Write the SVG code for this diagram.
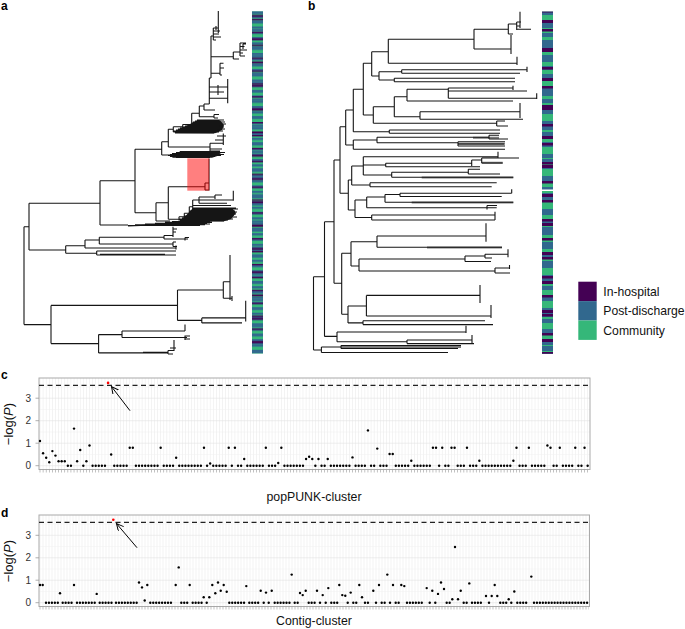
<svg xmlns="http://www.w3.org/2000/svg" width="685" height="629" viewBox="0 0 685 629">
<defs>
<style>
text{font-family:"Liberation Sans",Arial,Helvetica,sans-serif}
.t{fill:none;stroke:#151515;stroke-width:1.1}
.tk{fill:none;stroke:#7a7a7a;stroke-width:2}
.wedge{fill:#151515}
.lab{font-size:12px;font-weight:bold;fill:#000}
.yt{font-size:10px;fill:#333;text-anchor:end}
.ttl{font-size:12.3px;fill:#111;text-anchor:middle}
.leg{font-size:12.2px;fill:#111}
.dot{fill:#000}
.red{fill:#ff0000}
.zc{fill:none;stroke:#000;stroke-width:2.4;stroke-linecap:round;stroke-dasharray:0 3.094}
.zd{fill:none;stroke:#000;stroke-width:2.4;stroke-linecap:round;stroke-dasharray:0 2.95}
.hmaj{stroke:#e3e3e3;stroke-width:0.6}
.hmin{stroke:#f1f1f1;stroke-width:0.5}
.frame{fill:none;stroke:#aaa;stroke-width:1}
.dash{stroke:#222;stroke-width:1.2;stroke-dasharray:5 3.5}
.arr{stroke:#000;stroke-width:1;marker-end:url(#ah)}
.ytick{stroke:#999;stroke-width:0.8}
</style>
<marker id="ah" markerWidth="10" markerHeight="10" refX="7" refY="3.5" orient="auto" markerUnits="userSpaceOnUse"><path d="M0 0L7 3.5L0 7" fill="none" stroke="#000" stroke-width="1"/></marker>
<pattern id="pa1" width="11" height="5.3" patternUnits="userSpaceOnUse"><rect y="0" width="11" height="2.2" fill="#31688E"/></pattern>
<pattern id="pa2" width="11" height="8.7" patternUnits="userSpaceOnUse"><rect y="3" width="11" height="2.4" fill="#31688E"/></pattern>
<pattern id="pa3" width="11" height="12.9" patternUnits="userSpaceOnUse"><rect y="6" width="11" height="1.3" fill="#440154"/></pattern>
<pattern id="pa4" width="11" height="23.3" patternUnits="userSpaceOnUse"><rect y="15" width="11" height="1.8" fill="#440154"/></pattern>
<pattern id="pb1" width="11" height="11" patternUnits="userSpaceOnUse"><rect y="0" width="11" height="4" fill="#31688E"/></pattern>
<pattern id="pb2" width="11" height="17" patternUnits="userSpaceOnUse"><rect y="6" width="11" height="5" fill="#31688E"/></pattern>
<pattern id="pb3" width="11" height="19" patternUnits="userSpaceOnUse"><rect y="10" width="11" height="2.5" fill="#440154"/></pattern>
<pattern id="pb4" width="11" height="29" patternUnits="userSpaceOnUse"><rect y="20" width="11" height="3" fill="#440154"/></pattern>
</defs>
<rect width="685" height="629" fill="#fff"/>

<text class="lab" x="1" y="10">a</text>
<text class="lab" x="308" y="10">b</text>
<text class="lab" x="1" y="379">c</text>
<text class="lab" x="1" y="517">d</text>

<g id="tree-a">
<polygon class="wedge" points="175,133 185,126.5 192,123 198,120.3 220,120.3 224,125 222,130 215,133.3"/>
<polygon class="wedge" points="169,155.5 180,151.5 217,151.5 222,154.5 212,157.8 173,157.8"/>
<polygon class="wedge" points="180,221 187,214.5 193,208 232,208 236,213 231,219 224,221.3"/>
<polygon class="wedge" points="128,226 170,222.8 205,219.8 211,220.5 206,223.5 160,225.3 128,226.4"/>
<path class="t" d="M24 226.7V324.6M24 226.7H29M29 203.3V250M29 203.3H100M100 180.7V225M100 180.7H135M135 149.3V212.7M135 149.3H161.7M161.7 141.7V155M161.7 141.7H168.3M168.3 129.3V147
M161.7 155H170M180 151.5H220M176 152.5H225M172 153.5H218M170 154.5H224M168 155.5H221M170 156.5H215M176 157.5H210
M168.3 147H210M210 143.3V151M210 143.3H223.3M210 151H220M223.3 133.5V145M215 140H223.3M217 136H226M210 149H222
M168.3 129.3H173.3M173.3 126.7V132M173.3 126.7H182.7M182.7 124.5V128.3M182.7 124.5H191.7M191.7 113.3V125
M197 120H224M195 121H219M193 122H225M191.7 123H221M191.7 124H226M188 125H222M185 126H219M182.7 127H224M180 128H220M178 129H225M176 130H217M173.3 131H223M173.3 132H219M175 133H214
M191.7 113.3H199.3M199.3 106V116.7M199.3 116.7H214M214 114.5V118M214 114.5H219M214 118H218M199.3 106H204M204 104V110M204 110H215M204 104H209.3
M209.3 78V104M209.3 98.3H227.7M227.7 79V103.3M209.3 87H227.7M209.3 92H224M218 85V95
M209.3 78H211M211 36V78M211 73.3H220M220 63.3V75M220 63.3H223.5M220 68H224M220 75H222
M211 56.7H233.3M233.3 52V59M233.3 52H240M233.3 59H239M240 43V56M240 43H246M240 46.5H244.5M240 50H247M240 53H243M240 56H245M243 44V49M243 44H246
M211 36H213.3M213.3 28V40M213.3 28H218.3M218.3 11V33M213.3 31H220M213.3 34H219M213.3 37H221M213.3 40H216M216 26V30
M135 212.7H156M156 202.7V221M156 202.7H168.3M168.3 186.7V219.3M168.3 186.7H205M205 183V190M205 183H209M205 190H209M209 158.5V190.5
M168.3 219.3H179M179 216.7V220.5M179 216.7H184.3M184.3 213.3V218.3M184.3 213.3H189.3M189.3 206.7V216M189.3 206.7H192.7M192.7 200V210
M192.7 200H199M199 197V203.3M199 200H233.3M233.3 190.7V200.7M199 203.3H227M199 197H215M215 195V199M215 195H222M192.7 205.5H231
M192.7 208H236M192.7 209H238M192.7 210H233M190 211H235M189.3 212H237M189.3 213H231M189.3 214H236M187 215H234M184.3 216H232M184.3 217H237M182 218H230M179 219H233M179 220H228M181 221H224
M156 221H170M100 225H128M128 225.5H200M135 224.7H205M145 224H210M155 223.2H207M165 222.4H212M172 221.6H210M180 220.8H206
M29 250H65.7M65.7 245.7V253.3M65.7 245.7H85M85 240V248M85 240H99.3M99.3 237.3V244M99.3 237.3H164M164 235.5V239M164 235.5H173M173 226.7V237M173 229H177M173 232H176M164 239H188M185 237.5V240.5M185 237.5H189
M99.3 244H173M173 242V246.5M173 242H176M173 246.5H177M85 248H176M176 245.5V249.5
M65.7 253.3H96.7M96.7 251V255M96.7 251H176M96.7 255H176M100 254.2H165
M24 324.6H51M51 305.4V343.6M51 305.4H177.5M177.5 290V320.4M177.5 290H223.3M223.3 281.7V298.3M223.3 281.7H230M230 255V300M223.3 298.3H232M232 296V301
M177.5 320.4H201.8M201.8 317.9V322.9M201.8 317.9H245.7M245.7 300.7V321.4M201.8 322.9H242
M51 343.6H98.6M98.6 334.6V352.9M98.6 334.6H122M122 331V337.5M122 331H185M185 324.6V331M122 337.5H187M185 335.5V340M185 336H190M185 339H190
M98.6 352.9H168M143 352.2H168M168 350.5V354M168 350.5H174M174 340V351M168 354H173M170 348H176"/>
<rect x="187.3" y="158.3" width="22" height="32.4" fill="#ff0000" fill-opacity="0.5"/>
</g>

<g id="strip-a">
<rect x="252" y="11.5" width="11" height="342" fill="#35B779"/>
<rect x="252" y="11.5" width="11" height="342" fill="url(#pa1)"/>
<rect x="252" y="11.5" width="11" height="342" fill="url(#pa2)"/>
<rect x="252" y="11.5" width="11" height="342" fill="url(#pa3)"/>
<rect x="252" y="11.5" width="11" height="342" fill="url(#pa4)"/>
</g>

<g id="tree-b">
<path class="tk" d="M421.7 177.6H513.3M427 247.6H502M458 143.8H505M411.7 202.6H513.3M481.7 162.7H502.7M341 347H461M473 137.8H499"/>
<path class="t" d="M313.5 276.7V350M313.5 350H321.4M321.4 347V352.5M321.4 347H341M341 345.5V348.5M341 345.5H461M341 348.5H458M321.4 352.5H448
M313.5 276.7H324.5M324.5 221.7V336.4M324.5 336.4H337M337 332V341.8M337 332H466M466 325.7V333M337 341.8H407M407 340V343.6M407 340H472M472 335V343.6M407 343.6H474
M324.5 221.7H334M334 160V283.3M334 283.3H341.7M341.7 253.3V314.3M341.7 253.3H351M351 241.7V266M351 241.7H377M377 236V247.3M377 236H486M486 223.3V241.7M377 247.3H502
M351 266H359M359 259V271M359 259H465M465 256V261.5M465 256H485M485 254.3V258M485 254.3H508M508 249.3V257.3M485 258H492M465 261.5H491M359 271H495M495 268V273M495 268H510M495 273H510M509.5 265V269
M341.7 314.3H348M348 306V322.9M348 306H366.4M366.4 295.4V316M366.4 295.4H480M480 285V303M366.4 316H491M491 305V318M348 322.9H363M363 320.7V324.6M363 320.7H485M363 324.6H493
M334 160H340M340 126.7V193.3M340 126.7H345.7M345.7 110V145M345.7 110H353.3M353.3 89.3V131.7M353.3 89.3H363.3M363.3 63.3V115M363.3 63.3H371.7M371.7 51.7V76M371.7 51.7H388.3M388.3 39.3V63.3M388.3 39.3H474M474 29.3V49M474 29.3H508.3M508.3 24V34M508.3 24H516.7M516.7 22V30M520 11.7V28M516.7 26H520M516.7 22H521M516.7 29.3H531M508.3 34H513M474 49H511M511 35V54M388.3 63.3H517M517 56.7V65
M371.7 76H379M379 71.7V80M379 71.7H401.7M401.7 69.7V73.3M401.7 69.7H527M527 66.7V72M401.7 73.3H520M379 80H394.3M394.3 78.3V81.7M394.3 78.3H515M394.3 81.7H515
M363.3 115H373.3M373.3 106.7V123.3M373.3 106.7H394.3M394.3 96.7V116.7M394.3 96.7H407M407 89.3V101M407 89.3H448.3M448.3 88V98.3M448.3 88H513M513 85.7V90M448.3 91H527M448.3 98.3H536.7M536.7 93.3V99M407 101H513
M394.3 116.7H420M420 111.7V119.3M420 111.7H520M520 103V118M420 119.3H523M373.3 123.3H496.7M496.7 121V126M496.7 121H505M496.7 126H508
M353.3 131.7H389.3M389.3 130V133.3M389.3 130H500M389.3 133.3H500
M345.7 145H353.3M353.3 140V149.3M353.3 140H377M377 137.3V142.7M377 137.3H489M489 135.3V139M489 135.3H499M489 139H508M377 142.7H458M458 141.7V146M458 141.7H505M458 144H504M458 146H505M353.3 149.3H505
M340 193.3H348.3M348.3 180V210M348.3 180H351.7M351.7 166V185M351.7 166H363.3M363.3 156.7V175M363.3 156.7H498M498 151.7V158.3M363.3 165H385.7M385.7 163.3V166.7M385.7 163.3H471.7M471.7 160V166M471.7 160H481.7M481.7 158V163M481.7 158H519M481.7 163H502.7M385.7 166.7H480
M363.3 175H391.7M391.7 172.3V177.3M391.7 172.3H468.3M468.3 169.3V174M468.3 169.3H480M468.3 174H500M391.7 177.3H513.3M351.7 185H370M370 182.7V186.7M370 182.7H496.7M370 186.7H491.7
M348.3 210H355M355 200V217.5M355 200H366.7M366.7 197V207.7M366.7 197H385M385 194.5V202.3M385 194.5H400M400 193.3V196.5M400 193.3H511.7M511.7 189.3V193.3M400 196.5H501.7M385 202.3H513.3M366.7 207.7H496.7M487 205.5V209.5M487 205.5H497
M355 217.5H371.7M371.7 215V220M371.7 215H495M371.7 220H495M495 211.7V220"/>
</g>

<g id="strip-b">
<rect x="542" y="11.7" width="11" height="342" fill="#35B779"/>
<rect x="542" y="11.7" width="11" height="342" fill="url(#pb1)"/>
<rect x="542" y="11.7" width="11" height="342" fill="url(#pb2)"/>
<rect x="542" y="11.7" width="11" height="342" fill="url(#pb3)"/>
<rect x="542" y="11.7" width="11" height="342" fill="url(#pb4)"/>
<rect x="542" y="189.5" width="11" height="1.5" fill="#fff"/>
</g>

<g id="legend">
<rect x="578.3" y="281.7" width="18.4" height="19.4" fill="#440154"/>
<rect x="578.3" y="301.1" width="18.4" height="19.4" fill="#31688E"/>
<rect x="578.3" y="320.5" width="18.4" height="19.4" fill="#35B779"/>
<text class="leg" x="603.3" y="295.5">In-hospital</text>
<text class="leg" x="603.3" y="315">Post-discharge</text>
<text class="leg" x="603.3" y="334.5">Community</text>
</g>

<g id="plot-c">
<rect x="39" y="378" width="551" height="91.5" fill="#fff"/>
<line x1="39.7" y1="423.75" x2="589.5" y2="423.75" stroke="#ececec" stroke-width="91.5" stroke-dasharray="0.6 2.494"/>
<g>
<line class="hmin" x1="39" y1="454.45" x2="590" y2="454.45"/>
<line class="hmin" x1="39" y1="431.95" x2="590" y2="431.95"/>
<line class="hmin" x1="39" y1="409.45" x2="590" y2="409.45"/>
<line class="hmin" x1="39" y1="386.95" x2="590" y2="386.95"/>
<line class="hmaj" x1="39" y1="465.7" x2="590" y2="465.7"/>
<line class="hmaj" x1="39" y1="443.2" x2="590" y2="443.2"/>
<line class="hmaj" x1="39" y1="420.7" x2="590" y2="420.7"/>
<line class="hmaj" x1="39" y1="398.2" x2="590" y2="398.2"/>
</g>
<rect class="frame" x="39" y="378" width="551" height="91.5"/>
<line class="dash" x1="39" y1="385.3" x2="590" y2="385.3"/>
<g>
<line class="zc" x1="67.85" y1="465.7" x2="71.3" y2="465.7"/>
<line class="zc" x1="92.6" y1="465.7" x2="105.3" y2="465.7"/>
<line class="zc" x1="114.26" y1="465.7" x2="127" y2="465.7"/>
<line class="zc" x1="135.91" y1="465.7" x2="157.9" y2="465.7"/>
<line class="zc" x1="163.76" y1="465.7" x2="173.4" y2="465.7"/>
<line class="zc" x1="179.23" y1="465.7" x2="201.2" y2="465.7"/>
<line class="zc" x1="213.26" y1="465.7" x2="226" y2="465.7"/>
<line class="zc" x1="238.02" y1="465.7" x2="241.5" y2="465.7"/>
<line class="zc" x1="247.3" y1="465.7" x2="263.1" y2="465.7"/>
<line class="zc" x1="268.96" y1="465.7" x2="275.5" y2="465.7"/>
<line class="zc" x1="284.43" y1="465.7" x2="303.3" y2="465.7"/>
<line class="zc" x1="321.55" y1="465.7" x2="325" y2="465.7"/>
<line class="zc" x1="330.84" y1="465.7" x2="349.7" y2="465.7"/>
<line class="zc" x1="355.59" y1="465.7" x2="365.2" y2="465.7"/>
<line class="zc" x1="371.06" y1="465.7" x2="374.5" y2="465.7"/>
<line class="zc" x1="380.34" y1="465.7" x2="386.9" y2="465.7"/>
<line class="zc" x1="395.81" y1="465.7" x2="408.5" y2="465.7"/>
<line class="zc" x1="414.37" y1="465.7" x2="430.2" y2="465.7"/>
<line class="zc" x1="445.31" y1="465.7" x2="448.8" y2="465.7"/>
<line class="zc" x1="457.69" y1="465.7" x2="464.2" y2="465.7"/>
<line class="zc" x1="470.07" y1="465.7" x2="476.6" y2="465.7"/>
<line class="zc" x1="482.44" y1="465.7" x2="510.6" y2="465.7"/>
<line class="zc" x1="519.57" y1="465.7" x2="526.1" y2="465.7"/>
<line class="zc" x1="531.95" y1="465.7" x2="544.7" y2="465.7"/>
<line class="zc" x1="553.6" y1="465.7" x2="557" y2="465.7"/>
<line class="zc" x1="562.89" y1="465.7" x2="572.5" y2="465.7"/>
<line class="zc" x1="578.36" y1="465.7" x2="581.8" y2="465.7"/>
<circle class="dot" cx="83.32" cy="465.7" r="1.2"/>
<circle class="dot" cx="207.08" cy="465.7" r="1.2"/>
<circle class="dot" cx="231.83" cy="465.7" r="1.2"/>
<circle class="dot" cx="315.37" cy="465.7" r="1.2"/>
<circle class="dot" cx="439.13" cy="465.7" r="1.2"/>
<circle class="dot" cx="587.64" cy="465.7" r="1.2"/>
<circle class="dot" cx="40" cy="440.95" r="1.2"/>
<circle class="dot" cx="43.09" cy="453.3" r="1.2"/>
<circle class="dot" cx="46.19" cy="457.8" r="1.2"/>
<circle class="dot" cx="49.28" cy="462.3" r="1.2"/>
<circle class="dot" cx="52.38" cy="451.1" r="1.2"/>
<circle class="dot" cx="55.47" cy="455.6" r="1.2"/>
<circle class="dot" cx="58.56" cy="461.2" r="1.2"/>
<circle class="dot" cx="61.66" cy="461.2" r="1.2"/>
<circle class="dot" cx="64.75" cy="461.2" r="1.2"/>
<circle class="dot" cx="74.03" cy="428.6" r="1.2"/>
<circle class="dot" cx="77.13" cy="461.2" r="1.2"/>
<circle class="dot" cx="80.22" cy="450" r="1.2"/>
<circle class="dot" cx="86.41" cy="461.2" r="1.2"/>
<circle class="dot" cx="89.5" cy="445.5" r="1.2"/>
<circle class="dot" cx="111.16" cy="454.5" r="1.2"/>
<circle class="dot" cx="129.73" cy="447.7" r="1.2"/>
<circle class="dot" cx="132.82" cy="447.7" r="1.2"/>
<circle class="dot" cx="160.67" cy="447.7" r="1.2"/>
<circle class="dot" cx="176.14" cy="457.8" r="1.2"/>
<circle class="dot" cx="203.98" cy="447.7" r="1.2"/>
<circle class="dot" cx="210.17" cy="463.5" r="1.2"/>
<circle class="dot" cx="228.73" cy="447.7" r="1.2"/>
<circle class="dot" cx="234.92" cy="447.7" r="1.2"/>
<circle class="dot" cx="244.2" cy="459" r="1.2"/>
<circle class="dot" cx="265.86" cy="447.7" r="1.2"/>
<circle class="dot" cx="278.24" cy="463" r="1.2"/>
<circle class="dot" cx="281.33" cy="447.7" r="1.2"/>
<circle class="dot" cx="306.08" cy="459" r="1.2"/>
<circle class="dot" cx="309.18" cy="456.7" r="1.2"/>
<circle class="dot" cx="312.27" cy="459" r="1.2"/>
<circle class="dot" cx="318.46" cy="459" r="1.2"/>
<circle class="dot" cx="327.74" cy="459" r="1.2"/>
<circle class="dot" cx="352.49" cy="457.4" r="1.2"/>
<circle class="dot" cx="367.96" cy="430.4" r="1.2"/>
<circle class="dot" cx="377.25" cy="448.6" r="1.2"/>
<circle class="dot" cx="389.62" cy="454" r="1.2"/>
<circle class="dot" cx="392.72" cy="454" r="1.2"/>
<circle class="dot" cx="411.28" cy="460.8" r="1.2"/>
<circle class="dot" cx="432.94" cy="447.7" r="1.2"/>
<circle class="dot" cx="436.03" cy="447.7" r="1.2"/>
<circle class="dot" cx="442.22" cy="447.7" r="1.2"/>
<circle class="dot" cx="451.5" cy="447.7" r="1.2"/>
<circle class="dot" cx="454.6" cy="447.7" r="1.2"/>
<circle class="dot" cx="466.97" cy="447.7" r="1.2"/>
<circle class="dot" cx="479.35" cy="460.8" r="1.2"/>
<circle class="dot" cx="513.38" cy="460.8" r="1.2"/>
<circle class="dot" cx="516.48" cy="447.7" r="1.2"/>
<circle class="dot" cx="528.85" cy="447.7" r="1.2"/>
<circle class="dot" cx="547.42" cy="445.5" r="1.2"/>
<circle class="dot" cx="550.51" cy="447.7" r="1.2"/>
<circle class="dot" cx="559.79" cy="447.7" r="1.2"/>
<circle class="dot" cx="575.26" cy="447.7" r="1.2"/>
<circle class="dot" cx="584.54" cy="447.7" r="1.2"/>
<circle class="red" cx="108.07" cy="382.9" r="1.3"/>
</g>
<line class="arr" x1="130" y1="410.7" x2="111.5" y2="386.6"/>
<line x1="39.7" y1="471" x2="589" y2="471" stroke="#999" stroke-width="3" stroke-dasharray="0.6 2.494"/>
<g>
<line class="ytick" x1="35.5" y1="465.7" x2="39" y2="465.7"/>
<line class="ytick" x1="35.5" y1="443.2" x2="39" y2="443.2"/>
<line class="ytick" x1="35.5" y1="420.7" x2="39" y2="420.7"/>
<line class="ytick" x1="35.5" y1="398.2" x2="39" y2="398.2"/>
<text class="yt" x="31" y="469.2">0</text>
<text class="yt" x="31" y="446.7">1</text>
<text class="yt" x="31" y="424.2">2</text>
<text class="yt" x="31" y="401.7">3</text>
</g>
<text transform="translate(12.5,424) rotate(-90)" text-anchor="middle" font-size="13" fill="#111">−log(<tspan font-style="italic">P</tspan>)</text>
<text class="ttl" x="314" y="501">popPUNK-cluster</text>
</g>

<g id="plot-d">
<rect x="39" y="515" width="550.5" height="91.5" fill="#fff"/>
<line x1="39.7" y1="560.75" x2="589" y2="560.75" stroke="#ececec" stroke-width="91.5" stroke-dasharray="0.6 2.4"/>
<g>
<line class="hmin" x1="39" y1="591.5" x2="589.5" y2="591.5"/>
<line class="hmin" x1="39" y1="569" x2="589.5" y2="569"/>
<line class="hmin" x1="39" y1="546.5" x2="589.5" y2="546.5"/>
<line class="hmin" x1="39" y1="524.1" x2="589.5" y2="524.1"/>
<line class="hmaj" x1="39" y1="602.7" x2="589.5" y2="602.7"/>
<line class="hmaj" x1="39" y1="580.2" x2="589.5" y2="580.2"/>
<line class="hmaj" x1="39" y1="557.8" x2="589.5" y2="557.8"/>
<line class="hmaj" x1="39" y1="535.3" x2="589.5" y2="535.3"/>
</g>
<rect class="frame" x="39" y="515" width="550.5" height="91.5"/>
<line class="dash" x1="39" y1="522.3" x2="589.5" y2="522.3"/>
<g>
<line class="zd" x1="46" y1="602.7" x2="58.8" y2="602.7"/>
<line class="zd" x1="62.7" y1="602.7" x2="72.2" y2="602.7"/>
<line class="zd" x1="77" y1="602.7" x2="95.5" y2="602.7"/>
<line class="zd" x1="99.7" y1="602.7" x2="112.2" y2="602.7"/>
<line class="zd" x1="116" y1="602.7" x2="137.5" y2="602.7"/>
<line class="zd" x1="150.3" y1="602.7" x2="173.8" y2="602.7"/>
<line class="zd" x1="181.3" y1="602.7" x2="187.8" y2="602.7"/>
<line class="zd" x1="192.7" y1="602.7" x2="202.2" y2="602.7"/>
<line class="zd" x1="229.3" y1="602.7" x2="244.8" y2="602.7"/>
<line class="zd" x1="249.3" y1="602.7" x2="258.8" y2="602.7"/>
<line class="zd" x1="274.7" y1="602.7" x2="289.8" y2="602.7"/>
<line class="zd" x1="294.7" y1="602.7" x2="298.2" y2="602.7"/>
<line class="zd" x1="308.7" y1="602.7" x2="315.2" y2="602.7"/>
<line class="zd" x1="331.3" y1="602.7" x2="337.2" y2="602.7"/>
<line class="zd" x1="353.3" y1="602.7" x2="356.5" y2="602.7"/>
<line class="zd" x1="365" y1="602.7" x2="370.8" y2="602.7"/>
<line class="zd" x1="381.7" y1="602.7" x2="384.8" y2="602.7"/>
<line class="zd" x1="395.7" y1="602.7" x2="399.2" y2="602.7"/>
<line class="zd" x1="407" y1="602.7" x2="424.5" y2="602.7"/>
<line class="zd" x1="446.7" y1="602.7" x2="449.8" y2="602.7"/>
<line class="zd" x1="463.7" y1="602.7" x2="466.8" y2="602.7"/>
<line class="zd" x1="472" y1="602.7" x2="483.8" y2="602.7"/>
<line class="zd" x1="500.3" y1="602.7" x2="506.2" y2="602.7"/>
<line class="zd" x1="517.3" y1="602.7" x2="528.8" y2="602.7"/>
<line class="zd" x1="534" y1="602.7" x2="588.8" y2="602.7"/>
<circle class="dot" cx="206.7" cy="602.7" r="1.2"/>
<circle class="dot" cx="263.7" cy="602.7" r="1.2"/>
<circle class="dot" cx="268.7" cy="602.7" r="1.2"/>
<circle class="dot" cx="320" cy="602.7" r="1.2"/>
<circle class="dot" cx="325.7" cy="602.7" r="1.2"/>
<circle class="dot" cx="347.7" cy="602.7" r="1.2"/>
<circle class="dot" cx="376" cy="602.7" r="1.2"/>
<circle class="dot" cx="390" cy="602.7" r="1.2"/>
<circle class="dot" cx="429.7" cy="602.7" r="1.2"/>
<circle class="dot" cx="435.3" cy="602.7" r="1.2"/>
<circle class="dot" cx="489" cy="602.7" r="1.2"/>
<circle class="dot" cx="511.3" cy="602.7" r="1.2"/>
<circle class="dot" cx="40" cy="585" r="1.2"/>
<circle class="dot" cx="42.7" cy="585" r="1.2"/>
<circle class="dot" cx="60" cy="593.3" r="1.2"/>
<circle class="dot" cx="74" cy="585" r="1.2"/>
<circle class="dot" cx="96.7" cy="593.9" r="1.2"/>
<circle class="dot" cx="139" cy="582.5" r="1.2"/>
<circle class="dot" cx="142" cy="587.4" r="1.2"/>
<circle class="dot" cx="144.7" cy="600.5" r="1.2"/>
<circle class="dot" cx="147.3" cy="585" r="1.2"/>
<circle class="dot" cx="175.7" cy="585" r="1.2"/>
<circle class="dot" cx="178.7" cy="567.4" r="1.2"/>
<circle class="dot" cx="189.7" cy="585" r="1.2"/>
<circle class="dot" cx="203.7" cy="597.3" r="1.2"/>
<circle class="dot" cx="209.3" cy="597.3" r="1.2"/>
<circle class="dot" cx="212.3" cy="585" r="1.2"/>
<circle class="dot" cx="215.3" cy="593.3" r="1.2"/>
<circle class="dot" cx="218" cy="582.5" r="1.2"/>
<circle class="dot" cx="220.7" cy="590.8" r="1.2"/>
<circle class="dot" cx="223.7" cy="585" r="1.2"/>
<circle class="dot" cx="226.7" cy="591.7" r="1.2"/>
<circle class="dot" cx="246.3" cy="586.1" r="1.2"/>
<circle class="dot" cx="260.7" cy="590.8" r="1.2"/>
<circle class="dot" cx="266" cy="592.6" r="1.2"/>
<circle class="dot" cx="271.7" cy="590.8" r="1.2"/>
<circle class="dot" cx="291.7" cy="574.6" r="1.2"/>
<circle class="dot" cx="300" cy="593" r="1.2"/>
<circle class="dot" cx="302.7" cy="595.1" r="1.2"/>
<circle class="dot" cx="305.7" cy="590.8" r="1.2"/>
<circle class="dot" cx="317" cy="590.8" r="1.2"/>
<circle class="dot" cx="322.7" cy="595.1" r="1.2"/>
<circle class="dot" cx="328.3" cy="588.1" r="1.2"/>
<circle class="dot" cx="339.3" cy="585" r="1.2"/>
<circle class="dot" cx="342.3" cy="595.1" r="1.2"/>
<circle class="dot" cx="345.3" cy="595.7" r="1.2"/>
<circle class="dot" cx="350.7" cy="592.6" r="1.2"/>
<circle class="dot" cx="359.3" cy="585" r="1.2"/>
<circle class="dot" cx="362" cy="597.3" r="1.2"/>
<circle class="dot" cx="373.3" cy="590.8" r="1.2"/>
<circle class="dot" cx="379" cy="585" r="1.2"/>
<circle class="dot" cx="387.3" cy="574.6" r="1.2"/>
<circle class="dot" cx="393" cy="585" r="1.2"/>
<circle class="dot" cx="401.3" cy="585" r="1.2"/>
<circle class="dot" cx="404.3" cy="586.1" r="1.2"/>
<circle class="dot" cx="426.7" cy="588.1" r="1.2"/>
<circle class="dot" cx="432.3" cy="590.8" r="1.2"/>
<circle class="dot" cx="438" cy="593.9" r="1.2"/>
<circle class="dot" cx="441" cy="582.5" r="1.2"/>
<circle class="dot" cx="444" cy="589" r="1.2"/>
<circle class="dot" cx="452.3" cy="599.3" r="1.2"/>
<circle class="dot" cx="455" cy="547" r="1.2"/>
<circle class="dot" cx="458" cy="599.3" r="1.2"/>
<circle class="dot" cx="460.7" cy="590.8" r="1.2"/>
<circle class="dot" cx="469.3" cy="583.4" r="1.2"/>
<circle class="dot" cx="486" cy="596" r="1.2"/>
<circle class="dot" cx="491.7" cy="596" r="1.2"/>
<circle class="dot" cx="494.7" cy="585" r="1.2"/>
<circle class="dot" cx="497.3" cy="596" r="1.2"/>
<circle class="dot" cx="508.7" cy="599.3" r="1.2"/>
<circle class="dot" cx="514.3" cy="591.5" r="1.2"/>
<circle class="dot" cx="531.3" cy="576.6" r="1.2"/>
<circle class="red" cx="113.3" cy="519.8" r="1.3"/>
</g>
<line class="arr" x1="137" y1="547.7" x2="116.5" y2="523.6"/>
<line x1="39.7" y1="608" x2="589" y2="608" stroke="#999" stroke-width="3" stroke-dasharray="0.6 2.4"/>
<g>
<line class="ytick" x1="35.5" y1="602.7" x2="39" y2="602.7"/>
<line class="ytick" x1="35.5" y1="580.2" x2="39" y2="580.2"/>
<line class="ytick" x1="35.5" y1="557.8" x2="39" y2="557.8"/>
<line class="ytick" x1="35.5" y1="535.3" x2="39" y2="535.3"/>
<text class="yt" x="31" y="606.2">0</text>
<text class="yt" x="31" y="583.7">1</text>
<text class="yt" x="31" y="561.3">2</text>
<text class="yt" x="31" y="538.8">3</text>
</g>
<text transform="translate(12.5,561) rotate(-90)" text-anchor="middle" font-size="13" fill="#111">−log(<tspan font-style="italic">P</tspan>)</text>
<text class="ttl" x="314" y="625">Contig-cluster</text>
</g>
</svg>
